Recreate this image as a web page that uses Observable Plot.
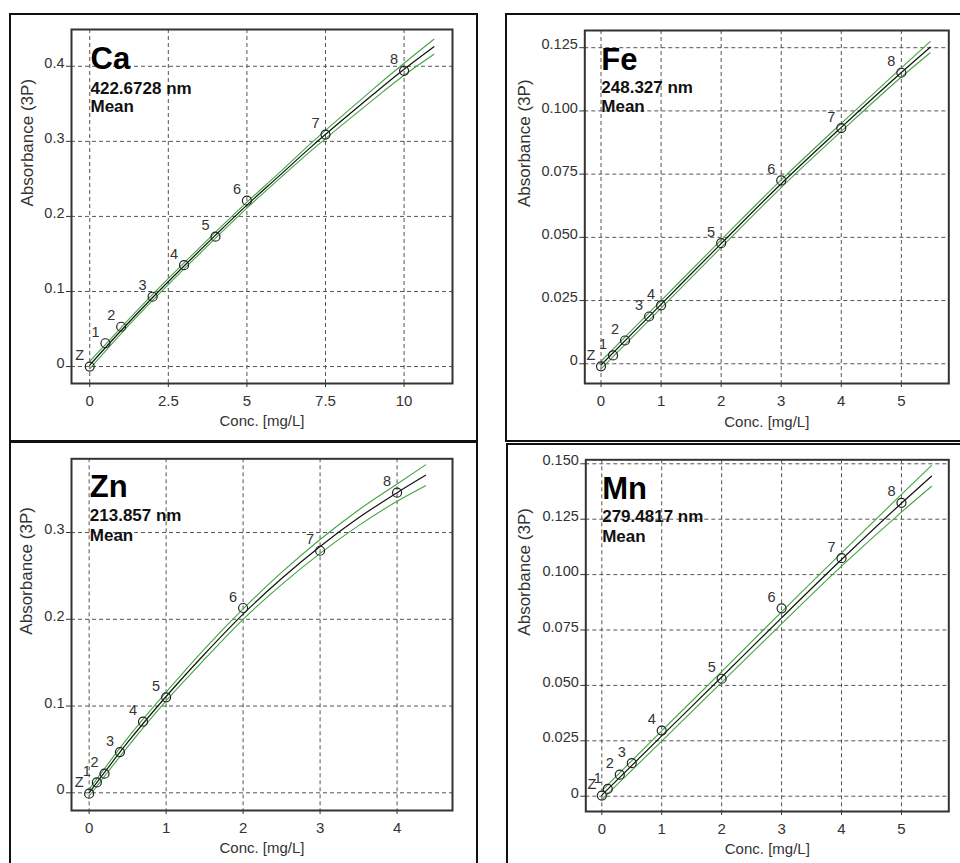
<!DOCTYPE html>
<html><head><meta charset="utf-8">
<script src="https://cdn.jsdelivr.net/npm/d3@7"></script>
<script src="https://cdn.jsdelivr.net/npm/@observablehq/plot@0.6"></script>
<style>
body{margin:0;background:#fff;}
#root{position:relative;width:960px;height:863px;overflow:hidden;background:#fff;font-family:'Liberation Sans',Arial,sans-serif;}
.holder{position:absolute;}
.box{position:absolute;border:2px solid #111;box-sizing:border-box;pointer-events:none;}
</style></head>
<body><div id="root"></div>
<script>
// ---------- shared ----------
const pointLabels = ["Z","1","2","3","4","5","6","7","8"];
const yAxisTitle = "Absorbance (3P)";
const xAxisTitle = "Conc. [mg/L]";

// ---------- Ca ----------
const caElement = "Ca", caWavelength = "422.6728 nm", caMode = "Mean";
const caConc = [0, 0.5, 1, 2, 3, 4, 5, 7.5, 10];
const caAbs  = [0, 0.031, 0.053, 0.093, 0.135, 0.173, 0.221, 0.309, 0.394];
const caFitX = [0, 1, 2, 3, 4, 5, 6, 7, 8, 9, 10, 10.95];
const caFitY = [0.002, 0.048, 0.092, 0.134, 0.175, 0.215, 0.253, 0.291, 0.327, 0.362, 0.396, 0.426];
const caUpper = [0.007, 0.052, 0.096, 0.138, 0.179, 0.219, 0.257, 0.296, 0.333, 0.369, 0.404, 0.436];
const caLower = [-0.003, 0.044, 0.088, 0.130, 0.171, 0.211, 0.249, 0.286, 0.321, 0.355, 0.388, 0.416];
const caXTicks = [0, 2.5, 5, 7.5, 10];
const caXTickLabels = ["0", "2.5", "5", "7.5", "10"];
const caYTicks = [0, 0.1, 0.2, 0.3, 0.4];
const caYTickLabels = ["0", "0.1", "0.2", "0.3", "0.4"];

// ---------- Fe ----------
const feElement = "Fe", feWavelength = "248.327 nm", feMode = "Mean";
const feConc = [0, 0.2, 0.4, 0.8, 1, 2, 3, 4, 5];
const feAbs  = [-0.001, 0.0033, 0.0092, 0.0187, 0.0231, 0.0477, 0.0725, 0.0932, 0.1151];
const feFitX = [0, 1, 2, 3, 4, 5, 5.48];
const feFitY = [-0.0005, 0.0235, 0.0475, 0.0712, 0.0935, 0.1152, 0.1252];
const feUpper = [0.0010, 0.0250, 0.0490, 0.0727, 0.0951, 0.1170, 0.1274];
const feLower = [-0.0020, 0.0220, 0.0460, 0.0697, 0.0919, 0.1134, 0.1230];
const feXTicks = [0, 1, 2, 3, 4, 5];
const feXTickLabels = ["0", "1", "2", "3", "4", "5"];
const feYTicks = [0, 0.025, 0.05, 0.075, 0.1, 0.125];
const feYTickLabels = ["0", "0.025", "0.050", "0.075", "0.100", "0.125"];

// ---------- Zn ----------
const znElement = "Zn", znWavelength = "213.857 nm", znMode = "Mean";
const znConc = [0, 0.1, 0.2, 0.4, 0.7, 1, 2, 3, 4];
const znAbs  = [-0.001, 0.012, 0.022, 0.047, 0.082, 0.110, 0.213, 0.279, 0.346];
const znFitX = [0, 0.5, 1, 1.5, 2, 2.5, 3, 3.5, 4, 4.37];
const znFitY = [0, 0.058, 0.111, 0.160, 0.206, 0.247, 0.284, 0.317, 0.346, 0.366];
const znUpper = [0.004, 0.063, 0.116, 0.166, 0.212, 0.254, 0.292, 0.326, 0.356, 0.378];
const znLower = [-0.004, 0.053, 0.106, 0.154, 0.200, 0.240, 0.276, 0.308, 0.336, 0.354];
const znXTicks = [0, 1, 2, 3, 4];
const znXTickLabels = ["0", "1", "2", "3", "4"];
const znYTicks = [0, 0.1, 0.2, 0.3];
const znYTickLabels = ["0", "0.1", "0.2", "0.3"];

// ---------- Mn ----------
const mnElement = "Mn", mnWavelength = "279.4817 nm", mnMode = "Mean";
const mnConc = [0, 0.1, 0.3, 0.5, 1, 2, 3, 4, 5];
const mnAbs  = [0.0003, 0.0033, 0.0097, 0.0149, 0.0296, 0.053, 0.0848, 0.1074, 0.1324];
const mnFitX = [0, 1, 2, 3, 4, 5, 5.5];
const mnFitY = [0.0005, 0.0272, 0.0538, 0.0805, 0.1068, 0.1322, 0.1444];
const mnUpper = [0.0025, 0.0295, 0.0562, 0.0832, 0.1098, 0.1362, 0.1492];
const mnLower = [-0.0015, 0.0249, 0.0514, 0.0778, 0.1038, 0.1282, 0.1398];
const mnXTicks = [0, 1, 2, 3, 4, 5];
const mnXTickLabels = ["0", "1", "2", "3", "4", "5"];
const mnYTicks = [0, 0.025, 0.05, 0.075, 0.1, 0.125, 0.15];
const mnYTickLabels = ["0", "0.025", "0.050", "0.075", "0.100", "0.125", "0.150"];

// ---------- layout ----------
const FONT = "'Liberation Sans', Arial, sans-serif";
const root = document.getElementById("root");

function panel(d, L) {
  const fit = d.fitX.map((x, i) => ({x, y: d.fitY[i], u: d.upper[i], l: d.lower[i]}));
  const pts = d.conc.map((x, i) => ({x, y: d.abs[i], t: pointLabels[i]}));
  const grid = {stroke: "#555", strokeOpacity: 1, strokeWidth: 1, strokeDasharray: "4,3"};
  const chart = Plot.plot({
    width: L.width, height: L.height,
    marginLeft: L.ml, marginRight: L.mr, marginTop: L.mt, marginBottom: L.mb,
    x: {domain: L.xDomain, axis: null},
    y: {domain: L.yDomain, axis: null},
    style: {fontFamily: FONT, fontSize: "14.5px", color: "#333", background: "transparent", overflow: "visible"},
    marks: [
      Plot.gridX(d.xTicks, grid),
      Plot.gridY(d.yTicks, grid),
      Plot.line(fit, {x: "x", y: "u", stroke: "#42a542", strokeWidth: 1.1, curve: "monotone-x"}),
      Plot.line(fit, {x: "x", y: "l", stroke: "#42a542", strokeWidth: 1.1, curve: "monotone-x"}),
      Plot.line(fit, {x: "x", y: "y", stroke: "#111", strokeWidth: 1.2, curve: "monotone-x"}),
      Plot.dot(pts, {x: "x", y: "y", r: 4.5, stroke: "#222", strokeWidth: 1.2, fill: "none"}),
      Plot.text(pts, {x: "x", y: "y", text: "t", dx: -10, dy: -11, fill: "#333", fontSize: 14.5}),
      Plot.axisX(d.xTicks, {tickSize: 4, tickPadding: 8, stroke: "#333", fill: "#333", fontSize: 15,
        tickFormat: v => d.xTickLabels[d.xTicks.indexOf(v)], label: null}),
      Plot.axisY(d.yTicks, {tickSize: 5, stroke: "#333", tickFormat: () => "", label: null}),
      Plot.axisY(d.yTicks, {tickSize: 0, tickPadding: 7, dy: -3, fill: "#333", fontSize: 14.5,
        tickFormat: v => d.yTickLabels[d.yTicks.indexOf(v)], label: null}),
      Plot.frame({stroke: "#333", strokeWidth: 2}),
      Plot.text([yAxisTitle], {frameAnchor: "left", rotate: -90, dx: L.yTitleDx, fontSize: 17, fill: "#333"}),
      Plot.text([xAxisTitle], {frameAnchor: "bottom", dy: L.xTitleDy, fontSize: 15, fill: "#333"}),
      Plot.text([d.element], {frameAnchor: "top-left", textAnchor: "start", lineAnchor: "bottom",
        dx: L.titleDx, dy: L.titleDy[0], fontSize: 31, fontWeight: "bold", fill: "#000"}),
      Plot.text([d.wavelength], {frameAnchor: "top-left", textAnchor: "start", lineAnchor: "bottom",
        dx: L.titleDx, dy: L.titleDy[1], fontSize: 17, fontWeight: "bold", fill: "#111"}),
      Plot.text([d.mode], {frameAnchor: "top-left", textAnchor: "start", lineAnchor: "bottom",
        dx: L.titleDx, dy: L.titleDy[2], fontSize: 17, fontWeight: "bold", fill: "#111"})
    ]
  });
  const holder = document.createElement("div");
  holder.className = "holder";
  holder.style.left = L.left + "px";
  holder.style.top = L.top + "px";
  holder.appendChild(chart);
  root.appendChild(holder);
}

panel({element: caElement, wavelength: caWavelength, mode: caMode, conc: caConc, abs: caAbs,
  fitX: caFitX, fitY: caFitY, upper: caUpper, lower: caLower,
  xTicks: caXTicks, xTickLabels: caXTickLabels, yTicks: caYTicks, yTickLabels: caYTickLabels},
  {left: 0, top: 0, width: 480, height: 440, ml: 71, mr: 28, mt: 29, mb: 57,
   xDomain: [-0.58, 11.54], yDomain: [-0.0226, 0.449],
   yTitleDx: -44.3, xTitleDy: 42, titleDx: 19, titleDy: [39, 64.3, 82.7]});

panel({element: feElement, wavelength: feWavelength, mode: feMode, conc: feConc, abs: feAbs,
  fitX: feFitX, fitY: feFitY, upper: feUpper, lower: feLower,
  xTicks: feXTicks, xTickLabels: feXTickLabels, yTicks: feYTicks, yTickLabels: feYTickLabels},
  {left: 480, top: 0, width: 480, height: 440, ml: 104.3, mr: 11.7, mt: 30, mb: 57,
   xDomain: [-0.27, 5.79], yDomain: [-0.0078, 0.1318],
   yTitleDx: -60.3, xTitleDy: 43, titleDx: 16.5, titleDy: [39.3, 62.7, 81.7]});

panel({element: znElement, wavelength: znWavelength, mode: znMode, conc: znConc, abs: znAbs,
  fitX: znFitX, fitY: znFitY, upper: znUpper, lower: znLower,
  xTicks: znXTicks, xTickLabels: znXTickLabels, yTicks: znYTicks, yTickLabels: znYTickLabels},
  {left: 0, top: 430, width: 480, height: 433, ml: 71, mr: 28, mt: 28.3, mb: 53,
   xDomain: [-0.229, 4.72], yDomain: [-0.0204, 0.385],
   yTitleDx: -44.7, xTitleDy: 42.7, titleDx: 18.3, titleDy: [38.4, 62.4, 81.7]});

panel({element: mnElement, wavelength: mnWavelength, mode: mnMode, conc: mnConc, abs: mnAbs,
  fitX: mnFitX, fitY: mnFitY, upper: mnUpper, lower: mnLower,
  xTicks: mnXTicks, xTickLabels: mnXTickLabels, yTicks: mnYTicks, yTickLabels: mnYTickLabels},
  {left: 480, top: 430, width: 480, height: 433, ml: 105.3, mr: 11.7, mt: 29.3, mb: 52,
   xDomain: [-0.267, 5.79], yDomain: [-0.0069, 0.1518],
   yTitleDx: -61, xTitleDy: 42.3, titleDx: 16.4, titleDy: [39, 62.4, 81.7]});

// outer panel frames
[[9, 13, 469, 429], [505, 13, 470, 429], [9, 441, 469, 440], [506, 443, 470, 440]].forEach(([x, y, w, h]) => {
  const b = document.createElement("div");
  b.className = "box";
  Object.assign(b.style, {left: x + "px", top: y + "px", width: w + "px", height: h + "px"});
  root.appendChild(b);
});
</script>
</body></html>
